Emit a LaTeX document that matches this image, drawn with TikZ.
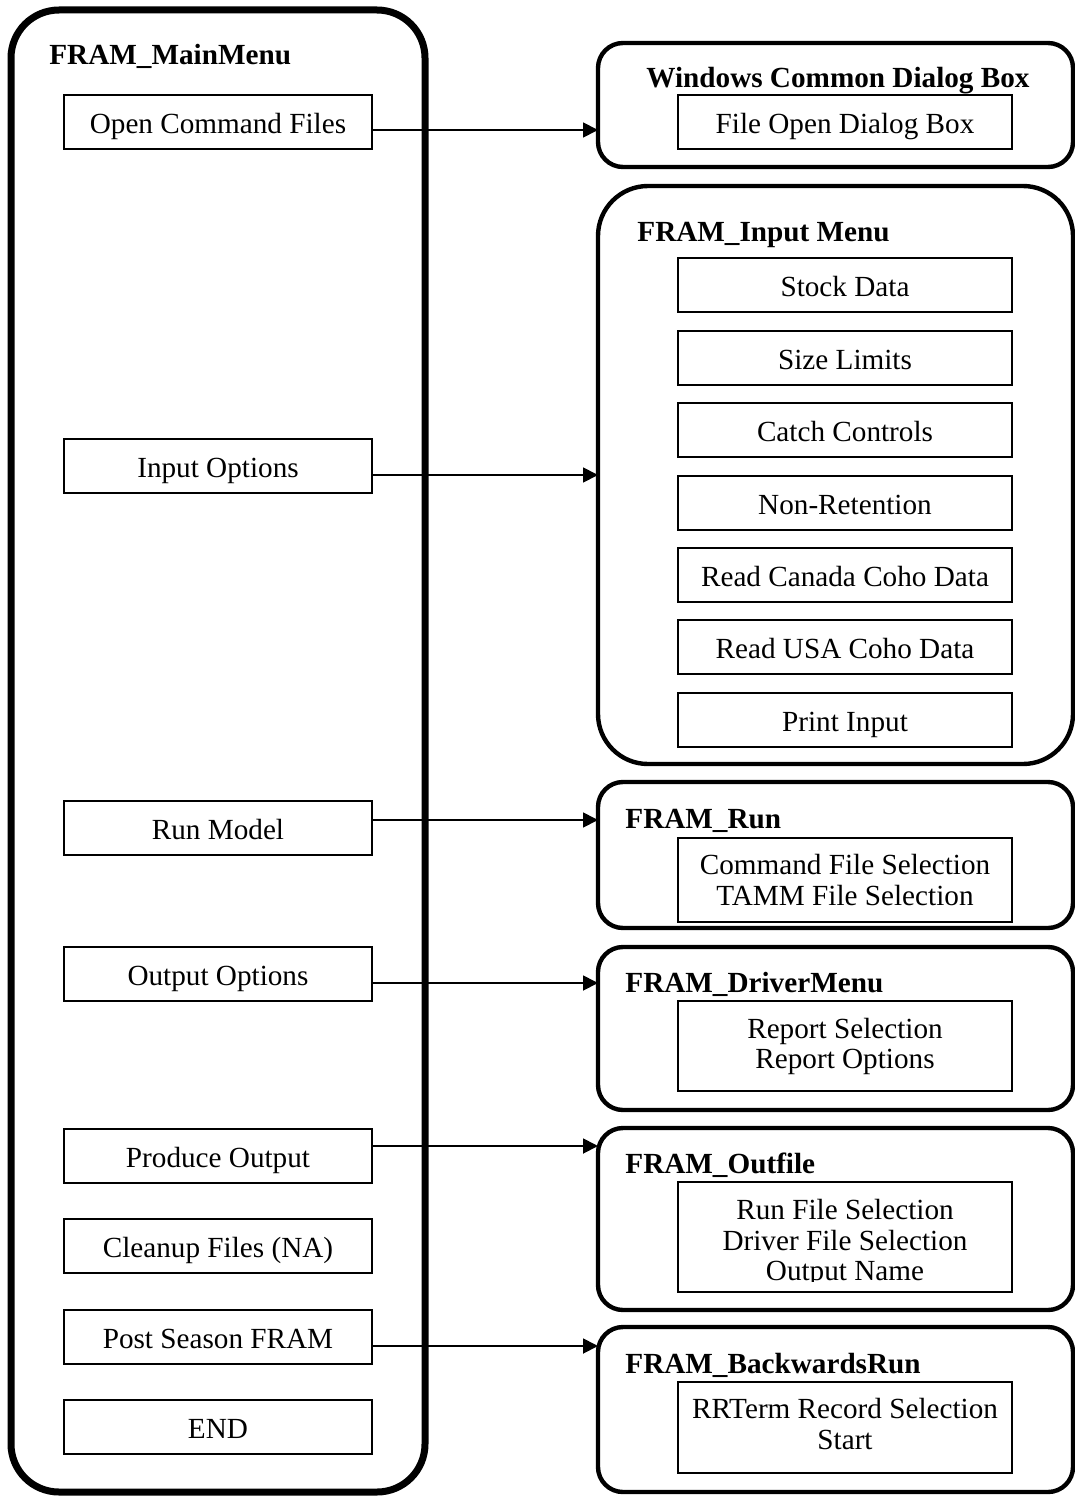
\documentclass[tikz,border=0pt]{standalone}
\usepackage{fontspec}
\setmainfont{Liberation Serif}
\usetikzlibrary{arrows.meta}
\begin{document}
\begin{tikzpicture}[x=0.5pt,y=-0.5pt,
  every node/.style={font=\fontsize{14.6pt}{15.4pt}\selectfont},
  mainframe/.style={draw, line width=3.5pt, rounded corners=24pt, inner sep=0pt, outer sep=0pt,
    minimum width=207pt, minimum height=741pt},
  subframe/.style={draw, line width=2.2pt, rounded corners=12.5pt, inner sep=0pt, outer sep=0pt,
    minimum width=237.5pt},
  itembox/.style={draw, line width=1.1pt, inner sep=0pt, outer sep=0pt,
    text height=11.2pt, text depth=0pt, minimum width=154pt, minimum height=27pt},
  subbox/.style={draw, line width=1.1pt, inner sep=0pt, outer sep=0pt,
    text height=11.2pt, text depth=0pt, minimum width=167pt, minimum height=27pt},
  listtext/.style={align=center, inner sep=0pt},
  heading/.style={font=\fontsize{14.6pt}{15.4pt}\selectfont\bfseries, inner sep=0pt, anchor=base west},
  arr/.style={line width=0.9pt, -{Triangle[length=7.5pt,width=7.5pt]}}]

\useasboundingbox (0,0) rectangle (1075,1498);

% ---- main menu column ----
\node[mainframe] (main) at (218,751) {};
\node[heading] (maintitle) at (49,65) {FRAM\_MainMenu};
\node[itembox] (oc)  at (218,122)  {Open Command Files};
\node[itembox] (io)  at (218,466)  {Input Options};
\node[itembox] (rm)  at (218,828)  {Run Model};
\node[itembox] (oo)  at (218,974)  {Output Options};
\node[itembox] (po)  at (218,1156) {Produce Output};
\node[itembox] (cf)  at (218,1246) {Cleanup Files (NA)};
\node[itembox] (ps)  at (218,1337) {Post Season FRAM};
\node[itembox] (end) at (218,1427) {END};

% ---- Windows common dialog ----
\node[subframe, minimum height=62pt] (wcd) at (835.5,105) {};
\node[heading, anchor=base] (wcdtitle) at (838,88) {Windows Common Dialog Box};
\node[subbox] (fod) at (845,122) {File Open Dialog Box};

% ---- input menu ----
\node[subframe, minimum height=289pt, rounded corners=25pt] (inp) at (835.5,475) {};
\node[heading] (inptitle) at (637,242) {FRAM\_Input Menu};
\node[subbox] (sd)  at (845,285) {Stock Data};
\node[subbox] (sl)  at (845,358) {Size Limits};
\node[subbox] (cc)  at (845,430) {Catch Controls};
\node[subbox] (nr)  at (845,503) {Non-Retention};
\node[subbox] (rcc) at (845,575) {Read Canada Coho Data};
\node[subbox] (ruc) at (845,647) {Read USA Coho Data};
\node[subbox] (pi)  at (845,720) {Print Input};

% ---- run ----
\node[subframe, minimum height=73pt] (run) at (835.5,855) {};
\node[heading] (runtitle) at (625,828) {FRAM\_Run};
\node[subbox, minimum height=42pt] (runlist) at (845,880) {};
\node[listtext] (runtext) at (845,880) {Command File Selection\\TAMM File Selection};

% ---- driver menu ----
\node[subframe, minimum height=81.5pt] (drv) at (835.5,1028.5) {};
\node[heading] (drvtitle) at (625,992) {FRAM\_DriverMenu};
\node[subbox, minimum height=45pt] (drvlist) at (845,1046) {};
\node[listtext] (drvtext) at (845,1046.5) {Report Selection\\Report Options};

% ---- outfile ----
\node[subframe, minimum height=91pt] (out) at (835.5,1219) {};
\node[heading] (outtitle) at (625,1173) {FRAM\_Outfile};
\node[subbox, minimum height=55pt] (outlist) at (845,1237) {};
\begin{scope}
  \clip (outlist.north west) rectangle (1012,1281);
  \node[listtext] (outtext) at (845,1243) {Run File Selection\\Driver File Selection\\Output Name};
\end{scope}

% ---- backwards run ----
\node[subframe, minimum height=82.5pt] (bwd) at (835.5,1409.5) {};
\node[heading] (bwdtitle) at (625,1373) {FRAM\_BackwardsRun};
\node[subbox, minimum height=45.5pt] (bwdlist) at (845,1427.5) {};
\node[listtext] (bwdtext) at (845,1424) {RRTerm Record Selection\\Start};

% ---- connectors ----
\coordinate (l1) at (0,130);
\coordinate (l2) at (0,475);
\coordinate (l3) at (0,820);
\coordinate (l4) at (0,983);
\coordinate (l5) at (0,1146);
\coordinate (l6) at (0,1346);
\draw[arr] (oc.east |- l1) -- (wcd.west |- l1);
\draw[arr] (io.east |- l2) -- (inp.west |- l2);
\draw[arr] (rm.east |- l3) -- (run.west |- l3);
\draw[arr] (oo.east |- l4) -- (drv.west |- l4);
\draw[arr] (po.east |- l5) -- (out.west |- l5);
\draw[arr] (ps.east |- l6) -- (bwd.west |- l6);
\end{tikzpicture}
\end{document}
